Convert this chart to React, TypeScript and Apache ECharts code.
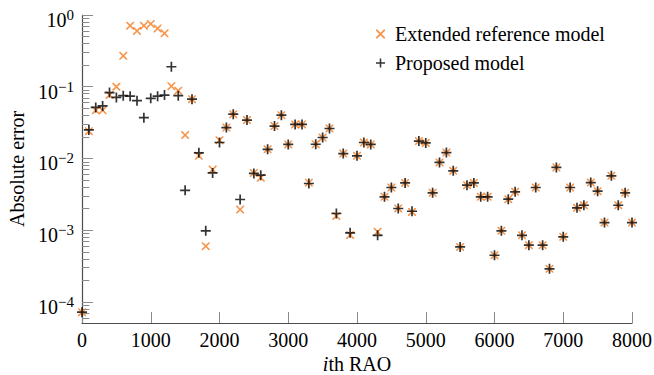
import React, { useEffect, useRef } from "react";
import * as echarts from "echarts";

// RAO index on the horizontal axis
const raoIndex = [
  0, 100, 200, 300, 400, 500, 600, 700, 800, 900,
  1000, 1100, 1200, 1300, 1400, 1500, 1600, 1700, 1800, 1900,
  2000, 2100, 2200, 2300, 2400, 2500, 2600, 2700, 2800, 2900,
  3000, 3100, 3200, 3300, 3400, 3500, 3600, 3700, 3800, 3900,
  4000, 4100, 4200, 4300, 4400, 4500, 4600, 4700, 4800, 4900,
  5000, 5100, 5200, 5300, 5400, 5500, 5600, 5700, 5800, 5900,
  6000, 6100, 6200, 6300, 6400, 6500, 6600, 6700, 6800, 6900,
  7000, 7100, 7200, 7300, 7400, 7500, 7600, 7700, 7800, 7900,
  8000,
];

// Absolute error of the extended reference model
const extendedReferenceError = [
  7.2e-5, 0.024, 0.047, 0.047, 0.077, 0.1, 0.27, 0.71, 0.6, 0.71,
  0.75, 0.65, 0.555, 0.102, 0.088, 0.0212, 0.067, 0.0109, 0.0006, 0.007,
  0.018, 0.027, 0.0415, 0.00194, 0.0343, 0.0063, 0.0054, 0.0134, 0.0283, 0.0402,
  0.0157, 0.0298, 0.0298, 0.0046, 0.0158, 0.0196, 0.0262, 0.00158, 0.0117, 0.00086,
  0.0109, 0.0167, 0.0157, 0.00095, 0.00292, 0.00394, 0.00201, 0.00457, 0.0018, 0.0175,
  0.0165, 0.00332, 0.0088, 0.0121, 0.00673, 0.000585, 0.00425, 0.00457, 0.00292, 0.00292,
  0.000448, 0.00098, 0.00271, 0.00343, 0.00085, 0.00062, 0.00394, 0.00062, 0.00029, 0.0075,
  0.00081, 0.00394, 0.00205, 0.00223, 0.00462, 0.0035, 0.00128, 0.00573, 0.00223, 0.00332,
  0.00128,
];

// Absolute error of the proposed model
const proposedError = [
  7.2e-5, 0.025, 0.0515, 0.054, 0.083, 0.071, 0.075, 0.074, 0.064, 0.037,
  0.069, 0.074, 0.0765, 0.19, 0.075, 0.0036, 0.067, 0.012, 0.00098, 0.0063,
  0.0167, 0.027, 0.0415, 0.00268, 0.0343, 0.0062, 0.00585, 0.0134, 0.0283, 0.0402,
  0.0157, 0.0298, 0.0298, 0.00448, 0.0158, 0.0196, 0.0262, 0.00171, 0.0117, 0.00092,
  0.0109, 0.0167, 0.0157, 0.00085, 0.00292, 0.00394, 0.00201, 0.00457, 0.00184, 0.0175,
  0.0165, 0.00332, 0.0088, 0.0121, 0.00673, 0.000585, 0.00425, 0.00457, 0.00292, 0.00292,
  0.000448, 0.00098, 0.00271, 0.00343, 0.00085, 0.00062, 0.00394, 0.00062, 0.00029, 0.0075,
  0.00081, 0.00394, 0.00205, 0.00223, 0.00462, 0.0035, 0.00128, 0.00573, 0.00223, 0.00332,
  0.00128,
];

const seriesNames = ["Extended reference model", "Proposed model"];
const xTickValues = [0, 1000, 2000, 3000, 4000, 5000, 6000, 7000, 8000];
const yDecades = [-4, -3, -2, -1, 0];

const FONT = "Liberation Serif";
const ORANGE = "#f47a1f";
const Y_MIN = -4.293;
const Y_MAX = 0;

// marker outlines, filled polygons centred on the origin
const CROSS_PATH =
  "path://M-10,-7.17L-10,-10L-7.17,-10L0,-2.83L7.17,-10L10,-10L10,-7.17L2.83,0L10,7.17L10,10L7.17,10L0,2.83L-7.17,10L-10,10L-10,7.17L-2.83,0Z";
const PLUS_PATH =
  "path://M-1.7,-10L1.7,-10L1.7,-1.7L10,-1.7L10,1.7L1.7,1.7L1.7,10L-1.7,10L-1.7,1.7L-10,1.7L-10,-1.7L-1.7,-1.7Z";

// log-decade minor tick positions (2..9 within each decade)
const minorTicks: number[] = [];
for (let d = -5; d < 0; d++) {
  for (let k = 2; k <= 9; k++) {
    const v = d + Math.log10(k);
    if (v > Y_MIN && v < Y_MAX) minorTicks.push(v);
  }
}

const toLogPoints = (values: number[]) =>
  raoIndex.map((x, i) => [x, Math.log10(values[i])]);

export default function App() {
  const ref = useRef<HTMLDivElement>(null);

  useEffect(() => {
    if (!ref.current) return;
    const chart = echarts.init(ref.current, null, { renderer: "svg" });

    const axisLineStyle = { color: "#4d4d4d", width: 1.2 };
    const tickLineStyle = { color: "#8a8a8a", width: 1 };
    const textBase = { fontFamily: FONT, fontSize: 20, color: "#000" };

    chart.setOption({
      animation: false,
      backgroundColor: "#ffffff",
      textStyle: { fontFamily: FONT },
      grid: {
        left: 82,
        right: 22,
        top: 15,
        bottom: 52,
        containLabel: false,
        outerBoundsMode: "none",
      },
      legend: {
        orient: "vertical",
        left: 376,
        top: 24,
        padding: 0,
        itemGap: 9,
        itemWidth: 19,
        itemHeight: 9,
        symbolKeepAspect: true,
        selectedMode: false,
        textStyle: { ...textBase, lineHeight: 20 },
        data: [
          { name: seriesNames[0], icon: CROSS_PATH },
          { name: seriesNames[1], icon: PLUS_PATH },
        ],
      },
      xAxis: {
        type: "value",
        min: 0,
        max: 8000,
        interval: 1000,
        name: "{i|i}{r|th RAO}",
        nameLocation: "middle",
        nameGap: 31,
        nameMoveOverlap: false,
        nameTextStyle: {
          ...textBase,
          rich: {
            i: { ...textBase, fontStyle: "italic" },
            r: { ...textBase },
          },
        },
        axisLine: { show: true, onZero: false, lineStyle: axisLineStyle },
        axisTick: { show: true, inside: true, length: 11, lineStyle: tickLineStyle, customValues: xTickValues },
        axisLabel: {
          ...textBase,
          margin: 7,
          customValues: xTickValues,
          formatter: (v: number) => `{n|${Math.round(v)}}`,
          rich: { n: { ...textBase } },
        },
        splitLine: { show: false },
      },
      yAxis: [
        {
          type: "value",
          min: Y_MIN,
          max: Y_MAX,
          name: "Absolute error",
          nameLocation: "middle",
          nameGap: 55,
          nameMoveOverlap: false,
          nameTextStyle: { ...textBase },
          axisLine: { show: true, onZero: false, lineStyle: axisLineStyle },
          axisTick: { show: true, inside: true, length: 11, lineStyle: tickLineStyle, customValues: yDecades },
          axisLabel: {
            ...textBase,
            margin: 8,
            customValues: yDecades,
            formatter: (v: number) => {
              const e = Math.round(v);
              const exp = e === 0 ? "0" : "\u2212" + Math.abs(e);
              return `{b|10}{e|${exp}}`;
            },
            rich: {
              // base sits low in a 30px line, exponent is centred on the tick
              b: {
                ...textBase,
                lineHeight: 20,
                verticalAlign: "bottom",
              },
              e: {
                fontFamily: FONT,
                fontSize: 15,
                lineHeight: 30,
                color: "#000",
                verticalAlign: "middle",
              },
            },
          },
          splitLine: { show: false },
        },
        {
          // overlay axis carrying only the logarithmic minor ticks
          type: "value",
          min: Y_MIN,
          max: Y_MAX,
          position: "left",
          axisLine: { show: false, onZero: false },
          axisTick: { show: true, inside: true, length: 7.4, lineStyle: tickLineStyle, customValues: minorTicks },
          axisLabel: { show: false },
          splitLine: { show: false },
        },
      ],
      series: [
        {
          type: "scatter",
          name: seriesNames[0],
          data: toLogPoints(extendedReferenceError),
          symbol: CROSS_PATH,
          symbolSize: 8,
          itemStyle: { color: ORANGE },
          silent: true,
          z: 2,
        },
        {
          type: "scatter",
          name: seriesNames[1],
          data: toLogPoints(proposedError),
          symbol: PLUS_PATH,
          symbolSize: 10,
          itemStyle: { color: "#000000" },
          silent: true,
          z: 3,
        },
      ],
    });

    return () => chart.dispose();
  }, []);

  return (
    <div
      ref={ref}
      style={{ position: "fixed", left: 0, top: 0, width: 654, height: 375, background: "#fff" }}
    />
  );
}
